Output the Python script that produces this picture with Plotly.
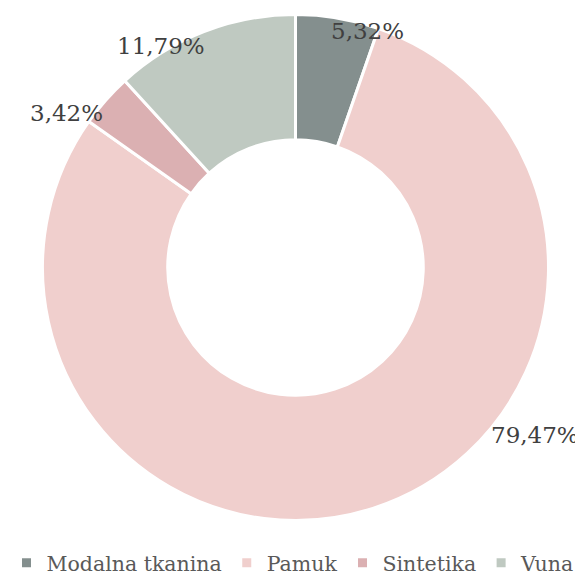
import plotly.graph_objects as go

categories = ["Modalna tkanina", "Pamuk", "Sintetika", "Vuna"]
values = [5.32, 79.47, 3.42, 11.79]
colors = ["#848f8e", "#f0cfcd", "#dbb0b2", "#bfc9c1"]

# page offset of the figure (browser default body margin)
OFF = 8
W, H = 583 - OFF, 576 - OFF

# label centres in page pixels (layout only)
label_px = [(367.5, 31), (535, 435), (66.5, 113.5), (160.5, 46)]

cx, cy, R = 295.5 - OFF, 267.5 - OFF, 253

SERIF = "DejaVu Serif"

fig = go.Figure(go.Pie(
    labels=categories,
    values=values,
    marker=dict(colors=colors, line=dict(color="white", width=3)),
    hole=0.505,
    sort=False,
    direction="clockwise",
    rotation=0,
    textinfo="none",
    hoverinfo="label+percent",
    domain=dict(x=[(cx - R) / W, (cx + R) / W], y=[1 - (cy + R) / H, 1 - (cy - R) / H]),
))

annotations = []
for v, (px, py) in zip(values, label_px):
    annotations.append(dict(
        x=(px - OFF) / W, y=1 - (py - OFF) / H, xref="paper", yref="paper",
        text=f"{v:.2f}".replace(".", ",") + "%",
        showarrow=False, xanchor="center", yanchor="middle",
        font=dict(family=SERIF, size=23, color="#404040"),
    ))

fig.update_layout(
    width=W, height=H,
    margin=dict(l=0, r=0, t=0, b=0, autoexpand=False),
    paper_bgcolor="white",
    plot_bgcolor="white",
    annotations=annotations,
    showlegend=True,
    legend=dict(
        orientation="h", x=(293 - OFF) / W, xanchor="center", y=1 - (563 - OFF) / H, yanchor="middle",
        font=dict(family=SERIF, size=20.5, color="#595959"),
        itemwidth=30, tracegroupgap=0,
    ),
)

fig.write_html("out.html")
